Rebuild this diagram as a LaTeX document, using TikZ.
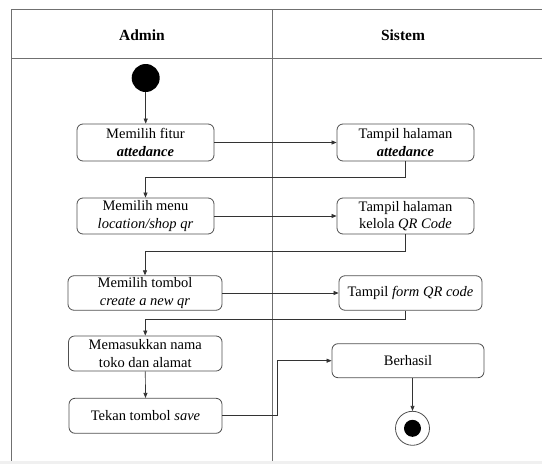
\documentclass[tikz,border=0pt]{standalone}
\usepackage{fontspec}
\setmainfont{Liberation Serif}
\usetikzlibrary{arrows.meta}
\definecolor{frameln}{HTML}{707070}
\definecolor{boxln}{HTML}{505050}
\tikzset{
  actbox/.style={draw=boxln, line width=0.8pt, rounded corners=6pt, align=center,
    font=\fontsize{14.5}{17.5}\selectfont, inner sep=0pt},
  flow/.style={draw=black!80, line width=0.7pt, -{Triangle[length=5pt,width=4pt]}},
  hdr/.style={font=\fontsize{15.5}{18}\selectfont\bfseries},
  lane/.style={draw=frameln, line width=0.9pt}
}
\begin{document}
\begin{tikzpicture}[x=1pt,y=-1pt]
\useasboundingbox (0,0) rectangle (542,464);
\clip (0,0) rectangle (542,464);
\fill[white] (0,0) rectangle (542,464);
\fill[black!6] (0,461) rectangle (542,464);
% swimlanes
\draw[lane] (560,9.3) -- (11,9.3) -- (11,461);
\draw[lane] (11,58) -- (560,58);
\draw[lane] (272.7,9.3) -- (272.7,461);
\node[hdr] (hadmin) at (142,35) {Admin};
\node[hdr] (hsistem) at (403,35) {Sistem};
% start / end
\node[circle, fill=black, minimum size=28pt, inner sep=0pt] (start) at (145.7,78) {};
\node[circle, draw=boxln, line width=0.8pt, fill=white, minimum size=34pt, inner sep=0pt] (end) at (412.5,428.3) {};
\node[circle, fill=black, minimum size=17pt, inner sep=0pt] (endin) at (412.5,428.3) {};
% activities
\node[actbox, minimum width=137pt, minimum height=37pt] (b1) at (145.5,142.5) {Memilih fitur\\\textbf{\textit{attedance}}};
\node[actbox, minimum width=137pt, minimum height=37pt] (b2) at (405.5,142.5) {Tampil halaman\\\textbf{\textit{attedance}}};
\node[actbox, minimum width=137pt, minimum height=36pt] (b3) at (145.5,216) {Memilih menu\\\textit{location/shop qr}};
\node[actbox, minimum width=137pt, minimum height=36pt] (b4) at (405.5,216) {Tampil halaman\\kelola \textit{QR Code}};
\node[actbox, minimum width=154pt, minimum height=34.5pt] (b5) at (145,293) {Memilih tombol\\\textit{create a new qr}};
\node[actbox, minimum width=143pt, minimum height=34.5pt] (b6) at (410.5,293) {Tampil \textit{form QR code}};
\node[actbox, minimum width=153.5pt, minimum height=35pt] (b7) at (145.3,353.5) {Memasukkan nama\\toko dan alamat};
\node[actbox, minimum width=153pt, minimum height=35pt] (b8) at (145.5,415.8) {Tekan tombol \textit{save}};
\node[actbox, minimum width=152pt, minimum height=34pt] (b9) at (408,360.7) {Berhasil};
% flows
\draw[flow] (start) -- (b1.north -| start);
\draw[flow] (b1.east) -- (b2.west);
\draw[flow] (b2.south) -- ++(0,15.7) -| (b3.north);
\draw[flow] (b3.east) -- (b4.west);
\draw[flow] (b4.south) -- ++(0,16.7) -| (b5.north);
\draw[flow] (b5.east) -- (b6.west);
\draw[flow] ([xshift=-4.8pt]b6.south) -- ++(0,8.3) -| (b7.north);
\draw[flow] (b7.south) -- (b8.north);
\draw[flow] (b8.east) -- ++(54.7,0) |- (b9.west);
\draw[flow] (b9.south -| end) -- (end.north);
\end{tikzpicture}
\end{document}
